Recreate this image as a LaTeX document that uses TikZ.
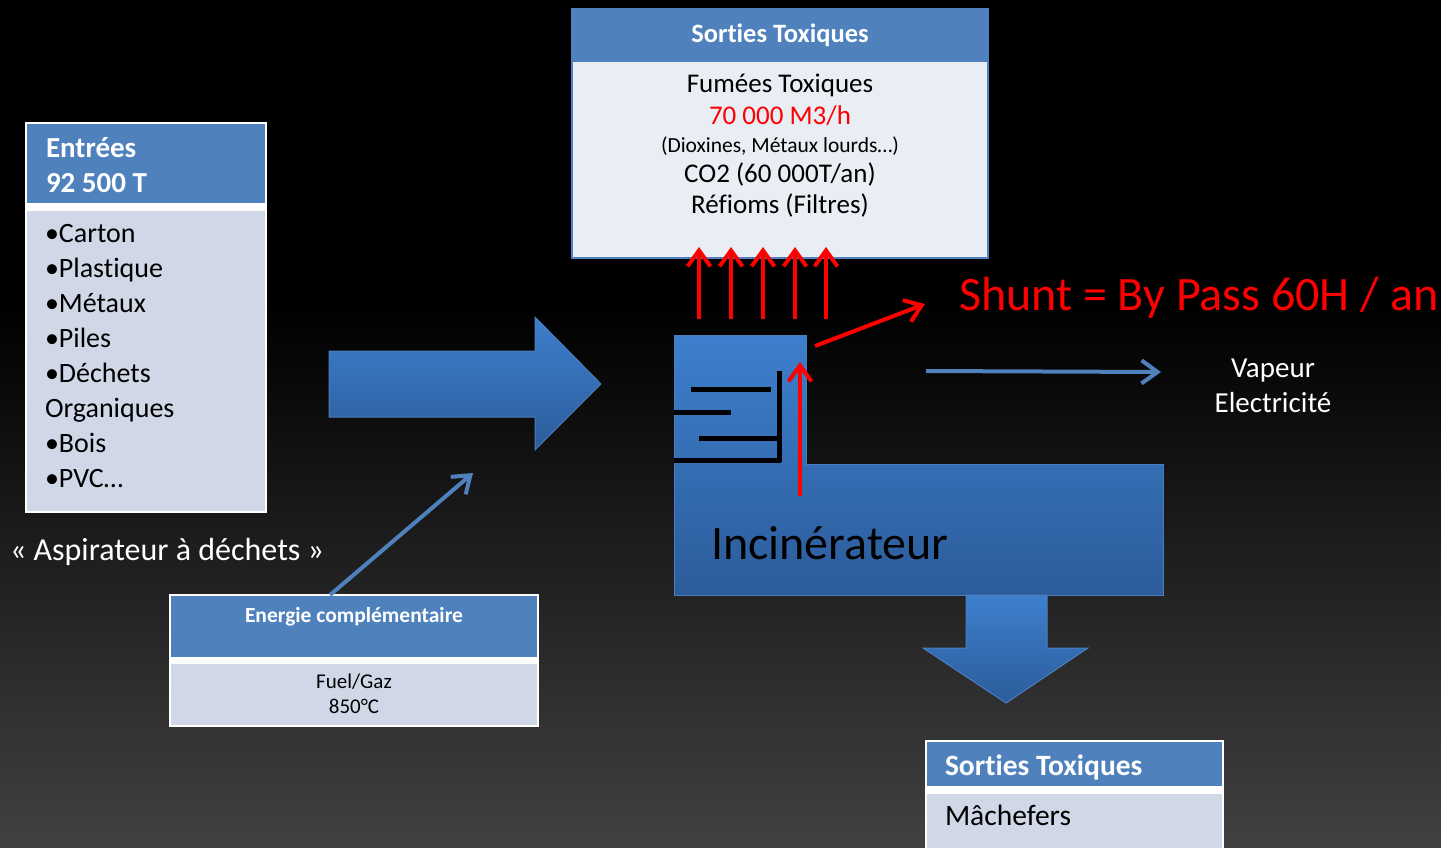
\documentclass[tikz,border=0pt]{standalone}
\usepackage{fontspec}
\setmainfont{Carlito}[Ligatures=NoCommon]
\usetikzlibrary{arrows.meta}
\definecolor{hdrblue}{HTML}{4F81BD}
\definecolor{bodyblue}{HTML}{D0D8E8}
\definecolor{topbody}{HTML}{E9EDF4}
\definecolor{shtop}{HTML}{3D7FCD}
\definecolor{shbot}{HTML}{2C5C9A}
\definecolor{shline}{HTML}{4A7EC0}
\definecolor{bgbot}{HTML}{414141}
\definecolor{redc}{HTML}{FF0000}
\pgfdeclareverticalshading{bgshade}{100bp}{color(0bp)=(bgbot); color(25bp)=(bgbot); color(57bp)=(black); color(100bp)=(black)}
\newcommand{\myfs}[1]{\fontsize{#1}{#1}\selectfont}
\tikzset{
  txt/.style={inner sep=0pt, outer sep=0pt},
  redarrow/.style={draw=redc, line width=4pt, -{Straight Barb[length=16pt,width=23pt]}},
  bluearrow/.style={draw=hdrblue, line width=4pt, -{Straight Barb[length=16pt,width=23pt]}},
  blockshape/.style={top color=shtop, bottom color=shbot, draw=shline, line width=1pt},
  flue/.style={draw=black, line width=5pt},
}
\begin{document}
\begin{tikzpicture}[x=1pt,y=-1pt]
\useasboundingbox (0,0) rectangle (1441,847);
\shade[shading=bgshade] (0,0) rectangle (1441,847);

% ---------- Entrées box ----------
\fill[white] (25,122) rectangle (267,513);
\fill[hdrblue] (27,124) rectangle (265,203);
\fill[bodyblue] (27,211) rectangle (265,511);
\node[txt, anchor=base west, text=white, font=\bfseries\myfs{29}] (inA) at (46,157) {Entrées};
\node[txt, anchor=base west, text=white, font=\bfseries\myfs{29}] (inB) at (46,192) {92 500 T};
\foreach \t [count=\i] in {•Carton,•Plastique,•Métaux,•Piles,•Déchets,Organiques,•Bois,•PVC…}{
  \node[txt, anchor=base west, font=\myfs{28}] (item\i) at (45,{242+35*(\i-1)}) {\t};
}

\node[txt, anchor=base west, text=white, font=\myfs{32}] (aspi) at (10,560) {« Aspirateur à déchets »};

% ---------- Energie box ----------
\fill[white] (169,594) rectangle (539,727);
\fill[hdrblue] (171,596) rectangle (537,657);
\fill[bodyblue] (171,664) rectangle (537,725);
\node[txt, anchor=base, text=white, font=\bfseries\myfs{21.5}] (enT) at (354,622) {Energie complémentaire};
\node[txt, anchor=base, font=\myfs{21}] (enA) at (354,688) {Fuel/Gaz};
\node[txt, anchor=base, font=\myfs{21}] (enB) at (354,713) {850°C};

% ---------- big right arrow ----------
\path[blockshape] (329,351) -- (535,351) -- (535,317) -- (601,384) -- (535,450) -- (535,417) -- (329,417) -- cycle;

% ---------- top box ----------
\fill[hdrblue] (571,8) rectangle (989,61);
\filldraw[fill=topbody, draw=hdrblue, line width=2pt] (572,61) rectangle (988,258);
\node[txt, anchor=base, text=white, font=\bfseries\myfs{26.5}] (topT) at (780,42) {Sorties Toxiques};
\node[txt, anchor=base, font=\myfs{27}] (topA) at (780,92) {Fumées Toxiques};
\node[txt, anchor=base, text=redc, font=\myfs{27}] (topB) at (780,124) {70 000 M3/h};
\node[txt, anchor=base, font=\myfs{21.5}] (topC) at (780,152) {(Dioxines, Métaux lourds…)};
\node[txt, anchor=base, font=\myfs{27}] (topD) at (780,182) {CO2 (60 000T/an)};
\node[txt, anchor=base, font=\myfs{27}] (topE) at (780,213) {Réfioms (Filtres)};

% ---------- incinerator ----------
\path[blockshape] (674,335) -- (806,335) -- (806,464) -- (1163,464) -- (1163,595) -- (674,595) -- cycle;
\node[txt, anchor=base west, font=\myfs{48}] (inc) at (711,559) {Incinérateur};
\draw[flue] (691,389) -- (771,389);
\draw[flue] (674,412) -- (731,412);
\draw[flue] (699,438) -- (781,438);
\draw[flue] (674,460) -- (781,460);
\draw[flue] (779,371) -- (779,462);

% ---------- down arrow ----------
\path[blockshape] (966,595) -- (1047,595) -- (1047,648) -- (1088,648) -- (1006,703) -- (923,648) -- (966,648) -- cycle;

% ---------- bottom box ----------
\fill[white] (925,740) rectangle (1224,849);
\fill[hdrblue] (927,742) rectangle (1222,786);
\fill[bodyblue] (927,794) rectangle (1222,849);
\node[txt, anchor=base west, text=white, font=\bfseries\myfs{29.5}] (botT) at (945,775) {Sorties Toxiques};
\node[txt, anchor=base west, font=\myfs{29.5}] (botA) at (945,825) {Mâchefers};

% ---------- labels ----------
\node[txt, anchor=base west, text=redc, font=\myfs{48}] (shunt) at (959,310) {Shunt = By Pass 60H / an};
\node[txt, anchor=base, text=white, font=\myfs{29}] (vapA) at (1273,377) {Vapeur};
\node[txt, anchor=base, text=white, font=\myfs{29}] (vapB) at (1273,412) {Electricité};

% ---------- connectors ----------
\foreach \x [count=\i] in {699,731,763,795,826}{
  \coordinate (rs\i) at (\x,319);
  \coordinate (re\i) at (\x,247);
  \draw[redarrow] (rs\i) -- (re\i);
}
\coordinate (upS) at (800,496);
\coordinate (upE) at (800,362);
\draw[redarrow] (upS) -- (upE);
\coordinate (shS) at (815,346);
\coordinate (shE) at (925,304);
\draw[redarrow] (shS) -- (shE);
\coordinate (vS) at (926,371);
\coordinate (vE) at (1161,372);
\draw[bluearrow] (vS) -- (vE);
\coordinate (eS) at (330,595);
\coordinate (eE) at (473,473);
\draw[bluearrow] (eS) -- (eE);
\end{tikzpicture}
\end{document}
